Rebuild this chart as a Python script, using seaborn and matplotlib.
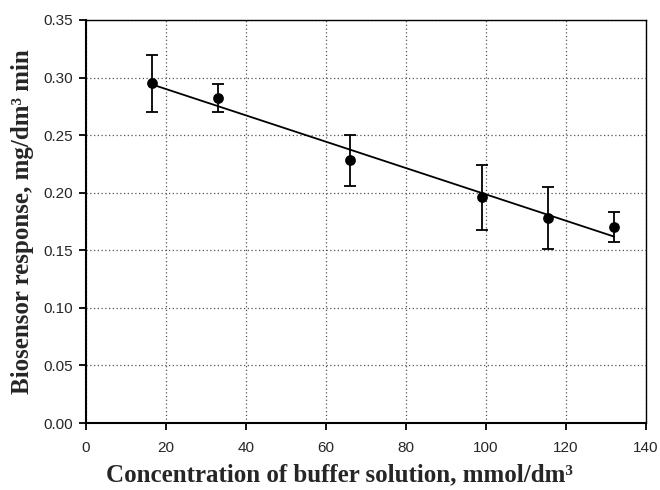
import numpy as np
import pandas as pd
import matplotlib
matplotlib.use("Agg")
import matplotlib.pyplot as plt
import seaborn as sns

# Buffer concentration (mmol/dm3) and biosensor response (mg/dm3 min)
concentration = [16.5, 33.0, 66.0, 99.0, 115.5, 132.0]
response = [0.295, 0.282, 0.228, 0.196, 0.178, 0.170]
err_upper = [0.025, 0.012, 0.022, 0.028, 0.027, 0.013]
err_lower = [0.025, 0.012, 0.022, 0.028, 0.027, 0.013]

x_ticks = [0, 20, 40, 60, 80, 100, 120, 140]
y_ticks = [0.00, 0.05, 0.10, 0.15, 0.20, 0.25, 0.30, 0.35]

df = pd.DataFrame({"conc": concentration, "resp": response})

sns.set_style("white")
plt.rcParams["font.family"] = ["Liberation Sans", "DejaVu Sans"]

fig = plt.figure(figsize=(6.6, 4.9), dpi=100)
ax = fig.add_axes([0.1303, 0.1367, 0.8485, 0.8225])

# dotted grid behind the data
ax.set_axisbelow(True)
ax.grid(True, linestyle=(0, (1, 2)), color="#555555", linewidth=0.9)

# least-squares line across the data range
sns.regplot(data=df, x="conc", y="resp", ax=ax, ci=None, scatter=False,
            truncate=True, line_kws={"color": "black", "linewidth": 1.3})

ax.errorbar(concentration, response, yerr=[err_lower, err_upper], fmt="none",
            ecolor="black", elinewidth=1.3, capsize=4.6, capthick=1.3, zorder=3)
sns.scatterplot(data=df, x="conc", y="resp", ax=ax, color="black", s=60,
                edgecolor="black", linewidth=0, zorder=4)

ax.set_xlim(0, 140)
ax.set_ylim(0, 0.35)
ax.set_xticks(x_ticks)
ax.set_yticks(y_ticks)
ax.set_xticklabels([str(v) for v in x_ticks], fontsize=11)
ax.set_yticklabels([f"{v:.2f}" for v in y_ticks], fontsize=11)
ax.tick_params(axis="both", which="both", direction="out", length=5, width=1.3,
               color="black", bottom=True, left=True, top=False, right=False,
               pad=4)
ax.tick_params(axis="x", pad=8)
ax.set_xlabel("")
ax.set_ylabel("")

for side in ["left", "bottom", "top", "right"]:
    ax.spines[side].set_visible(True)
    ax.spines[side].set_color("black")
ax.spines["left"].set_linewidth(1.5)
ax.spines["bottom"].set_linewidth(1.5)
ax.spines["top"].set_linewidth(1.0)
ax.spines["right"].set_linewidth(1.0)

label_font = dict(family=["Liberation Serif", "DejaVu Serif"], weight="bold",
                  size=18)
fig.text(0.514, 0.018, "Concentration of buffer solution, mmol/dm³",
         ha="center", va="baseline", **label_font)
fig.text(0.034, 0.547, "Biosensor response, mg/dm³ min", rotation=90,
         ha="center", va="center", **label_font)

fig.savefig("out.png", dpi=100)
